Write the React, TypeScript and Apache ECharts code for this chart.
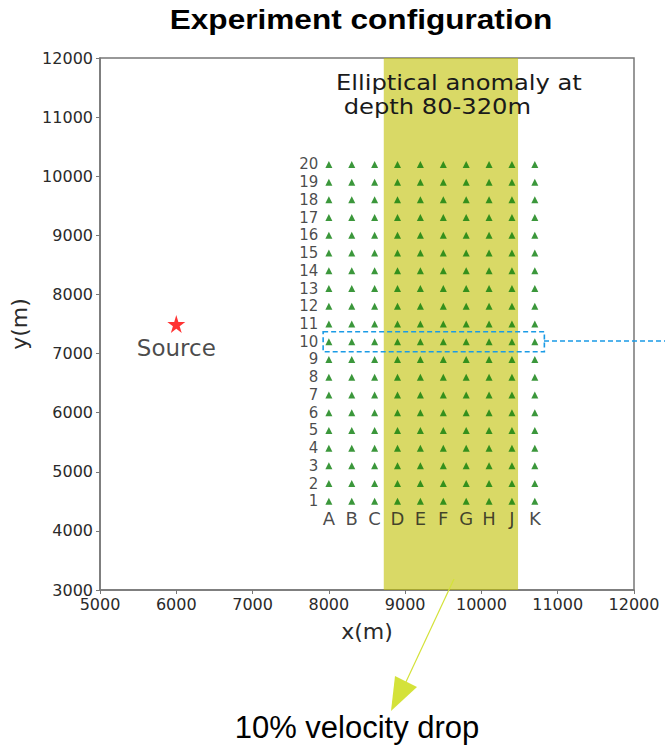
import React, { useEffect, useRef } from "react";
import * as echarts from "echarts";

const xTicks = [5000, 12000];
const yTicks = [3000, 12000];
const colLabels = ["A", "B", "C", "D", "E", "F", "G", "H", "J", "K"];
const colX = [8000, 8300, 8600, 8900, 9200, 9500, 9800, 10100, 10400, 10700];
const rowLabels = ["1", "2", "3", "4", "5", "6", "7", "8", "9", "10", "11", "12", "13", "14", "15", "16", "17", "18", "19", "20"];
const rowY = [4500, 4800, 5100, 5400, 5700, 6000, 6300, 6600, 6900, 7200, 7500, 7800, 8100, 8400, 8700, 9000, 9300, 9600, 9900, 10200];
const anomalyX = [8720, 10480];
const sourceXY = [6000, 7500];
const highlightBox = [7925, 7370, 10825, 7030];

const STAR = "path://M50,0 L61,35 L98,35 L68,57 L79,91 L50,70 L21,91 L32,57 L2,35 L39,35 Z";

export default function App() {
  const ref = useRef<HTMLDivElement>(null);
  useEffect(() => {
    const chart = echarts.init(ref.current!, null, { renderer: "svg" });
    const receivers: number[][] = [];
    rowY.forEach((y) => colX.forEach((x) => receivers.push([x, y])));
    const font = "DejaVu Sans";
    chart.setOption({
      animation: false,
      backgroundColor: "#fff",
      grid: { left: 98, top: 58, width: 536, height: 532, show: true, borderColor: "#777", borderWidth: 1.5, backgroundColor: "transparent" },
      xAxis: {
        type: "value",
        min: xTicks[0],
        max: xTicks[1],
        interval: 1000,
        splitLine: { show: false },
        axisLine: { show: true, lineStyle: { color: "#777", width: 1.5 } },
        axisTick: { show: true, length: 4, lineStyle: { color: "#777" } },
        axisLabel: { fontFamily: font, fontSize: 16, color: "#2a2a2a", margin: 6, formatter: (v: number) => String(v) },
        name: "x(m)",
        nameLocation: "middle",
        nameGap: 30,
        nameTextStyle: { fontFamily: font, fontSize: 22, color: "#2a2a2a" },
      },
      yAxis: {
        type: "value",
        min: yTicks[0],
        max: yTicks[1],
        interval: 1000,
        splitLine: { show: false },
        axisLine: { show: true, lineStyle: { color: "#777", width: 1.5 } },
        axisTick: { show: true, length: 4, lineStyle: { color: "#777" } },
        axisLabel: { fontFamily: font, fontSize: 16, color: "#2a2a2a", margin: 7, formatter: (v: number) => String(v) },
        name: "y(m)",
        nameLocation: "middle",
        nameGap: 70,
        nameRotate: 90,
        nameTextStyle: { fontFamily: font, fontSize: 22, color: "#2a2a2a" },
      },
      graphic: [
        {
          type: "text",
          x: 361,
          y: 19,
          scaleX: 1.17,
          z: 100,
          style: { text: "Experiment configuration", font: `bold 27px "Liberation Sans"`, fill: "#000", align: "center", verticalAlign: "middle" },
        },
        {
          type: "text",
          x: 336,
          y: 70,
          scaleX: 1.1,
          z: 100,
          style: { text: "Elliptical anomaly at\n depth 80-320m", font: `22px "${font}"`, fill: "#1a1a1a", lineHeight: 24 },
        },
        {
          type: "line",
          z: 100,
          shape: { x1: 544, y1: 341, x2: 665, y2: 341 },
          style: { stroke: "#1a9be6", lineWidth: 1.6, lineDash: [5, 3] },
        },
        {
          type: "line",
          z: 100,
          shape: { x1: 454, y1: 579, x2: 405, y2: 684 },
          style: { stroke: "#d4e23a", lineWidth: 1.2 },
        },
        {
          type: "polygon",
          z: 100,
          shape: { points: [[395, 676], [417, 687], [391, 711]] },
          style: { fill: "#d4e23a" },
        },
        {
          type: "text",
          x: 357,
          y: 727,
          z: 100,
          style: { text: "10% velocity drop", font: `31px "Liberation Sans"`, fill: "#000", align: "center", verticalAlign: "middle" },
        },
      ],
      series: [
        {
          type: "scatter",
          data: [],
          markArea: {
            silent: true,
            itemStyle: { color: "rgba(191,191,0,0.6)" },
            data: [[{ xAxis: anomalyX[0] }, { xAxis: anomalyX[1] }]],
          },
        },
        {
          type: "scatter",
          data: receivers,
          symbol: "triangle",
          symbolSize: 7,
          itemStyle: { color: "#0a7d0a" },
          z: 3,
        },
        {
          type: "scatter",
          data: [],
          z: 4,
          markArea: {
            silent: true,
            itemStyle: { color: "rgba(0,0,0,0)", borderColor: "#1a9be6", borderWidth: 1.6, borderType: [5, 3] },
            data: [[{ coord: [highlightBox[0], highlightBox[1]] }, { coord: [highlightBox[2], highlightBox[3]] }]],
          },
        },
        {
          type: "scatter",
          data: rowY.map((y, i) => ({ value: [colX[0], y], name: rowLabels[i] })),
          symbolSize: 1,
          itemStyle: { color: "rgba(0,0,0,0)" },
          label: { show: true, position: "left", distance: 10, formatter: "{b}", fontFamily: font, fontSize: 15, lineHeight: 15, color: "#1a1a1a" },
        },
        {
          type: "scatter",
          data: colX.map((x, i) => ({ value: [x, rowY[0]], name: colLabels[i] })),
          symbolSize: 1,
          itemStyle: { color: "rgba(0,0,0,0)" },
          label: { show: true, position: "bottom", distance: 8, formatter: "{b}", fontFamily: font, fontSize: 18, color: "#1a1a1a" },
        },
        {
          type: "scatter",
          data: [{ value: sourceXY, name: "Source" }],
          symbol: STAR,
          symbolSize: 18,
          itemStyle: { color: "#ff0000" },
          label: { show: true, position: "bottom", distance: 3, formatter: "{b}", fontFamily: font, fontSize: 23, color: "#1a1a1a" },
        },
      ],
    });
    return () => chart.dispose();
  }, []);
  return <div ref={ref} style={{ position: "absolute", left: 0, top: 0, width: 665, height: 746 }} />;
}
